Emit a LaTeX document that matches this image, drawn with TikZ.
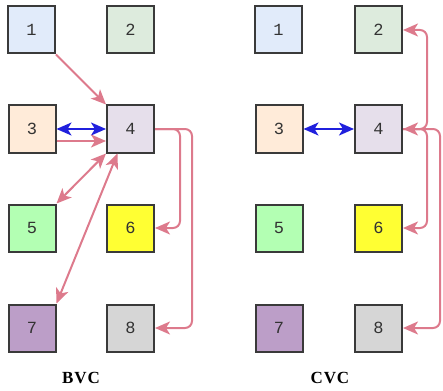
\documentclass[tikz,border=0pt]{standalone}
\usepackage{fontspec}
\setmainfont{Liberation Serif}
\newfontfamily\digitfont{Liberation Mono}
\usetikzlibrary{arrows.meta}
\definecolor{pinkln}{RGB}{221,122,140}
\definecolor{blueln}{RGB}{32,32,221}
\definecolor{bordr}{RGB}{58,58,58}
\definecolor{fa}{RGB}{225,235,250}
\definecolor{fb}{RGB}{221,235,221}
\definecolor{fc}{RGB}{255,235,217}
\definecolor{fd}{RGB}{230,223,235}
\definecolor{fe}{RGB}{179,255,179}
\definecolor{ff}{RGB}{255,255,51}
\definecolor{fg}{RGB}{188,158,200}
\definecolor{fh}{RGB}{214,214,214}
\tikzset{
  tipx/.tip={Stealth[length=15pt,width=13pt,inset=4pt]},
  box/.style={draw=bordr, line width=2pt, minimum width=47pt, minimum height=47pt, inner sep=0pt,
    font=\digitfont\fontsize{17}{17}\selectfont, text=black!80},
  pk/.style={draw=pinkln, line width=2pt, -tipx, rounded corners=7pt},
  pkb/.style={draw=pinkln, line width=2pt, tipx-tipx},
  bl/.style={draw=blueln, line width=2pt, tipx-tipx},
  lbl/.style={font=\bfseries\addfontfeature{LetterSpace=5}\fontsize{17}{17}\selectfont}
}
\begin{document}
\begin{tikzpicture}[x=1pt,y=-1pt]
\useasboundingbox (0,0) rectangle (443,390);
% left group
\node[box, fill=fa] (a1) at (31.5,30) {1};
\node[box, fill=fb] (a2) at (130.5,30) {2};
\node[box, fill=fc] (a3) at (32,129) {3};
\node[box, fill=fd] (a4) at (130.5,129) {4};
\node[box, fill=fe] (a5) at (32,228) {5};
\node[box, fill=ff] (a6) at (130.5,228) {6};
\node[box, fill=fg] (a7) at (32,328) {7};
\node[box, fill=fh] (a8) at (130.5,328) {8};
\node[lbl] (la) at (81,378) {BVC};
% right group
\node[box, fill=fa] (b1) at (278.5,30) {1};
\node[box, fill=fb] (b2) at (378.5,30) {2};
\node[box, fill=fc] (b3) at (279,129) {3};
\node[box, fill=fd] (b4) at (378.5,129) {4};
\node[box, fill=fe] (b5) at (279,228) {5};
\node[box, fill=ff] (b6) at (378.5,228) {6};
\node[box, fill=fg] (b7) at (279,328) {7};
\node[box, fill=fh] (b8) at (378.5,328) {8};
\node[lbl] (lb) at (330,378) {CVC};
% left edges
\draw[pk] (a1.south east) -- (a4.north west);
\draw[bl] (a3.east) -- (a4.west);
\draw[pk] ([yshift=-12pt]a3.east) -- ([yshift=-12pt]a4.west);
\draw[pkb] (a5.north east) -- (a4.south west);
\draw[pkb] (a7.north east) -- ([xshift=-13pt]a4.south);
\draw[pk] (a4.east) -- (180,129) -- (180,228) -- (a6.east);
\draw[pk] (a4.east) -- (192,129) -- (192,328) -- (a8.east);
% right edges
\draw[bl] (b3.east) -- (b4.west);
\draw[pk, tipx-tipx] (b4.east) -- (427,129) -- (427,30) -- (b2.east);
\draw[pk] (b4.east) -- (427,129) -- (427,228) -- (b6.east);
\draw[pk] (b4.east) -- (440,129) -- (440,328) -- (b8.east);
\end{tikzpicture}
\end{document}
